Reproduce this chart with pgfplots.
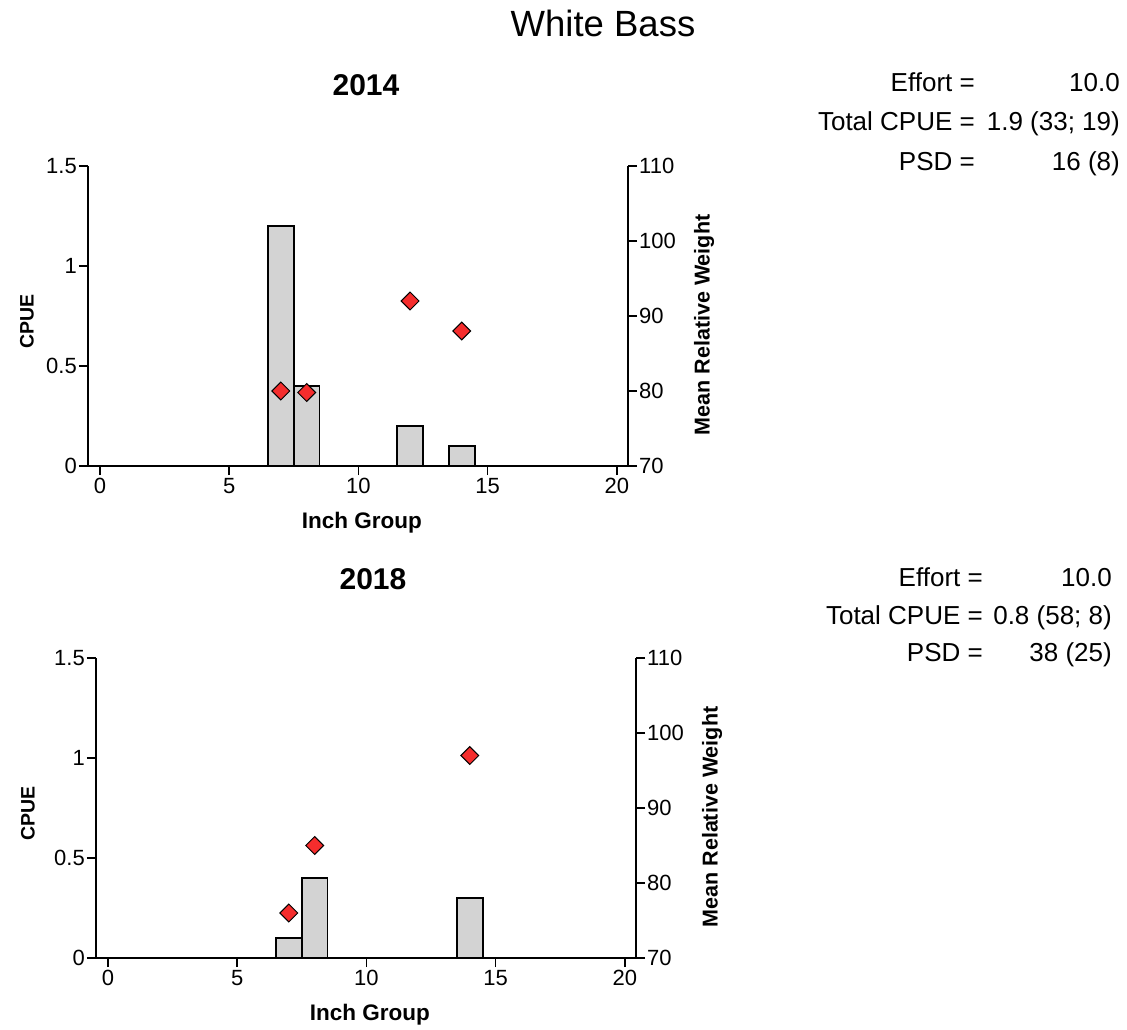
\documentclass[border=0pt]{standalone}
\usepackage{pgfplots}
\pgfplotsset{compat=1.18}
\usepackage{fontspec}
\setmainfont{Liberation Sans}
\definecolor{barfill}{RGB}{211,211,211}
\definecolor{markred}{RGB}{245,45,45}
\pgfplotsset{
  base/.style={
    scale only axis, width=540pt, height=300pt,
    xmin=-0.46, xmax=20.43,
    /pgf/number format/assume math mode=true,
    tick align=outside, major tick length=9pt,
    tick style={line width=1.5pt, black},
    axis line style={line width=1.5pt, -},
    tick label style={font=\fontsize{22}{26}\selectfont},
    label style={font=\fontsize{21.5}{25}\selectfont\bfseries},
    yticklabel style={inner sep=2pt},
    xticklabel style={inner sep=3pt},
  },
  leftax/.style={base,
    axis x line*=bottom, axis y line*=left,
    ymin=0, ymax=1.5, xtick={0,5,10,15,20}, ytick={0,0.5,1,1.5},
    xlabel={Inch Group}, ylabel={CPUE},
    xlabel style={at={(axis description cs:0.507,-0.19)}, anchor=center, font=\fontsize{22.5}{26}\selectfont\bfseries},
    ylabel style={at={(axis description cs:#1,0.483)}, anchor=center, font=\fontsize{19.5}{23}\selectfont\bfseries},
  },
  rightax/.style={base,
    axis x line=none, axis y line*=right,
    ymin=70, ymax=110, ytick={70,80,90,100,110},
    ylabel={Mean Relative Weight},
    ylabel style={at={(axis description cs:1.141,0.47)}, anchor=center},
  },
  bars/.style={ybar, bar width=1, fill=barfill, draw=black, line width=1.6pt},
  dots/.style={only marks, mark=square*, mark size=6.3pt,
    mark options={rotate=45, fill=markred, draw=black, line width=1pt}},
}
\begin{document}
\begin{tikzpicture}
\path[use as bounding box] (0,0) rectangle (1127pt,-1030pt);
\node[anchor=base, inner sep=0] at (603pt,-37pt) {\fontsize{36.5}{42}\selectfont White Bass};

% ---- 2014 ----
\begin{axis}[leftax=-0.113, at={(88pt,-466pt)}, anchor=south west]
\addplot[bars] coordinates {(7,1.2) (8,0.4) (12,0.2) (14,0.1)};
\end{axis}
\begin{axis}[rightax, at={(88pt,-466pt)}, anchor=south west]
\addplot[dots] coordinates {(7,80) (8,79.8) (12,92) (14,88)};
\end{axis}
\node[anchor=base, inner sep=0] at (366pt,-96pt) {\fontsize{30}{34}\selectfont\bfseries 2014};
\begin{scope}[every node/.style={inner sep=0, font=\fontsize{26}{30}\selectfont}]
\node[anchor=base east] at (975pt,-92pt) {Effort =};
\node[anchor=base east] at (1120pt,-92pt) {10.0};
\node[anchor=base east] at (975pt,-131pt) {Total CPUE =};
\node[anchor=base east] at (1120pt,-131pt) {1.9 (33; 19)};
\node[anchor=base east] at (975pt,-170pt) {PSD =};
\node[anchor=base east] at (1120pt,-170pt) {16 (8)};
\end{scope}

% ---- 2018 ----
\begin{axis}[leftax=-0.126, at={(96pt,-958pt)}, anchor=south west]
\addplot[bars] coordinates {(7,0.1) (8,0.4) (14,0.3)};
\end{axis}
\begin{axis}[rightax, at={(96pt,-958pt)}, anchor=south west]
\addplot[dots] coordinates {(7,76) (8,85) (14,97)};
\end{axis}
\node[anchor=base, inner sep=0] at (373pt,-589pt) {\fontsize{30}{34}\selectfont\bfseries 2018};
\begin{scope}[every node/.style={inner sep=0, font=\fontsize{26}{30}\selectfont}]
\node[anchor=base east] at (983pt,-586pt) {Effort =};
\node[anchor=base east] at (1112pt,-586pt) {10.0};
\node[anchor=base east] at (983pt,-624pt) {Total CPUE =};
\node[anchor=base east] at (1112pt,-624pt) {0.8 (58; 8)};
\node[anchor=base east] at (983pt,-661pt) {PSD =};
\node[anchor=base east] at (1112pt,-661pt) {38 (25)};
\end{scope}
\end{tikzpicture}
\end{document}
